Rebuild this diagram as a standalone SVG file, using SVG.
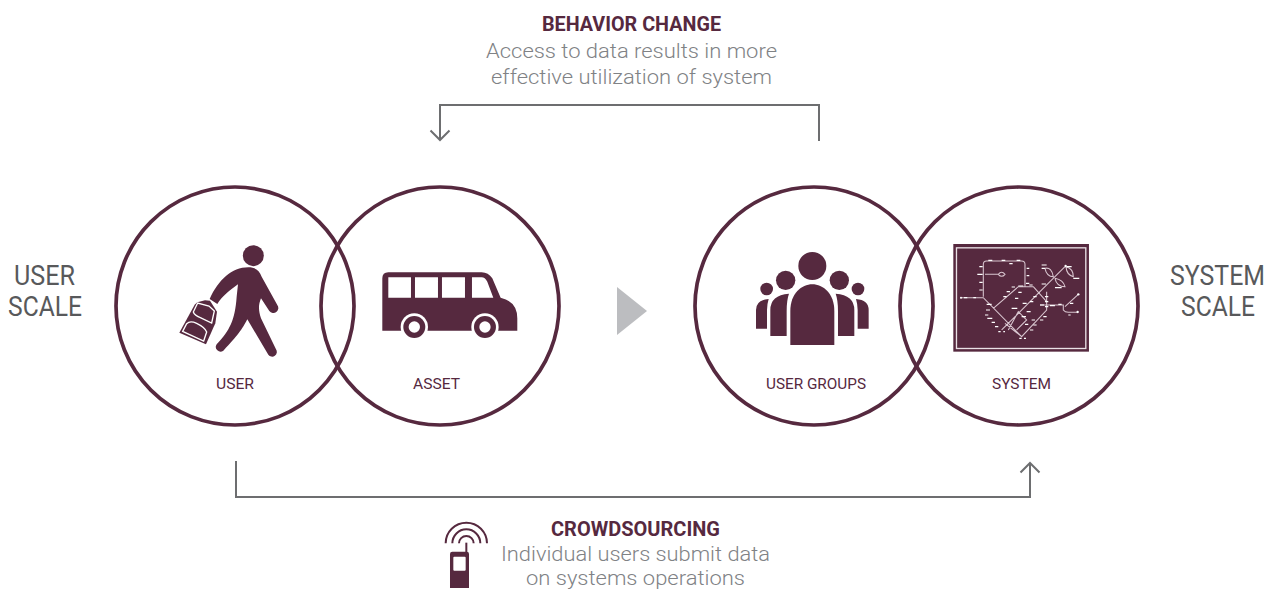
<svg xmlns="http://www.w3.org/2000/svg" width="1274" height="590" viewBox="0 0 1274 590">
<style>
text{font-family:"Roboto","Liberation Sans",sans-serif;text-anchor:start}
.ring{fill:none;stroke:#56293f;stroke-width:3.700}
.f{fill:#56293f}
.w{fill:#fff}
.lbl{font-size:15px;fill:#56293f}
.scale{font-size:27px;fill:#58595b;font-weight:400}
.head{font-size:20px;font-weight:700;fill:#56293f}
.desc{font-size:21px;font-weight:300;fill:#808285}
.conn{fill:none;stroke:#6d6e70;stroke-width:2}
.route{fill:none;stroke:#d8c5cf;stroke-width:3.200}
.tick{fill:none;stroke:#fff;stroke-width:3.400}
</style>
<rect width="1274" height="590" fill="#fff"/>
<g id="connectors">
<path class="conn" d="M819 141V105H440V140M430.500 130.500L440 140L449.500 130.500"/>
<path class="conn" d="M236 461V497H1030V463M1020.500 472.500L1030 463L1039.500 472.500"/>
<polygon id="flow-arrow" points="617,287 647,311 617,335" fill="#bcbdc0"/>
</g>
<g id="node-user">
<circle class="ring" cx="235" cy="306" r="119"/>
<g transform="translate(160 230) scale(.3333)">
<circle class="f" cx="280" cy="77" r="31.500"/>
<path class="f" d="M149 207C175 150 215 112 265 112C285 112 298 120 305 140L352 225A14 14 0 0 1 328 243L303 205C295 225 295 240 303 265L348 358A14 14 0 0 1 325 374L262 268C245 300 235 315 190 362A14 14 0 0 1 170 343C210 300 225 270 230 200L234 163C210 180 185 200 172 222Z"/>
<path class="f" d="M58 308L104 224L112 217L135 211L150 212L171 245L166 280L138 343Z"/>
<path fill="none" stroke="#fff" stroke-width="4" d="M100 246L113 219L147 228L163 243L155 279L121 263Q103 256 100 246Z"/>
<path fill="none" stroke="#fff" stroke-width="4" d="M68 304L80 281Q90 271 110 280Q135 292 140 306L131 333Z"/>
</g>
<text class="lbl" x="216" y="388.500" textLength="38" lengthAdjust="spacingAndGlyphs">USER</text>
</g>
<g id="node-asset">
<circle class="ring" cx="440" cy="306" r="119"/>
<g transform="translate(160 230) scale(.3333)">
<path class="f" d="M667 302V145Q667 127 685 127H965Q985 127 997 145L1022 203Q1072 215 1072 265V302Z"/>
<path class="w" d="M685 142H753V203H685ZM765 142H834V203H765ZM846 142H915V203H846ZM936 142H965Q975 142 982 155L1000 203H936Z"/>
<circle class="w" cx="763" cy="291" r="41"/><circle class="f" cx="763" cy="291" r="33"/><circle class="w" cx="763" cy="291" r="17"/>
<circle class="w" cx="975" cy="291" r="41"/><circle class="f" cx="975" cy="291" r="33"/><circle class="w" cx="975" cy="291" r="17"/>
</g>
<text class="lbl" x="413" y="388.500" textLength="47" lengthAdjust="spacingAndGlyphs">ASSET</text>
</g>
<g id="node-user-groups">
<circle class="ring" cx="814" cy="306" r="119"/>
<g transform="translate(740 235) scale(.3333)">
<circle class="f" cx="217" cy="93" r="42"/>
<path class="f" d="M151 330V228C151 175 185 148 217 148C249 148 283 175 283 228V330Z"/>
<circle class="f" cx="137" cy="136" r="29"/><circle class="f" cx="298" cy="136" r="29"/>
<path class="f" d="M91 303V225Q91 180 147 176Q140 195 140 228V303Z"/>
<path class="f" d="M343 303V225Q343 180 287 176Q294 195 294 228V303Z"/>
<circle class="f" cx="80" cy="162" r="19"/><circle class="f" cx="354" cy="162" r="19"/>
<path class="f" d="M48 281V225Q48 195 86 192Q81 208 81 225V281Z"/>
<path class="f" d="M386 281V225Q386 195 348 192Q353 208 353 225V281Z"/>
</g>
<text class="lbl" x="766" y="388.500" textLength="100" lengthAdjust="spacingAndGlyphs">USER GROUPS</text>
</g>
<g id="node-system">
<circle class="ring" cx="1019" cy="306" r="119"/>
<g transform="translate(740 235) scale(.3333)">
<rect class="f" x="640" y="27" width="407" height="323"/>
<rect x="649.500" y="38.500" width="388" height="302" fill="none" stroke="#e9e0e5" stroke-width="4"/>
<path class="route" d="M730 185V88Q730 78 740 78H845Q855 78 855 88V155M735 118H775M775 118Q785 105 795 118Q785 130 775 118M662 188H730L845 305L920 225V170M760 220L835 155H880M785 285L900 170L975 95M805 285L835 230L860 255L830 285M845 305L795 265M880 155L920 200M915 100Q935 95 940 125Q920 125 915 100M978 95Q1000 100 1000 125Q980 120 978 95M945 130Q970 135 975 155Q950 155 945 130M900 210H970V225Q975 232 985 232H1015M975 215L1015 178"/>
<path class="tick" d="M745 76H757M785 76H796M830 76H841M808 86H818M718 95H728M712 118H728M718 142H728M718 165H728M860 100H868M860 122H868M858 145H868M835 153H850M815 156H825M868 150H878M905 147H918M800 170H810M790 185H800M835 172H845M825 190H835M880 185H890M870 200H880M915 185H925M915 200H925M900 210H912M930 212H945M955 208H965M740 208H755M738 225H750M735 240H745M742 250H757M755 262H765M765 275H775M815 220H832M848 205H860M860 230H872M845 245H858M875 255H885M855 268H865M880 270H890M870 285H880M905 90H920M905 100H915M980 95H995M1000 130H1018M945 158H965M672 188H682M700 188H708M985 240H992M990 205H1000M775 290H782M790 290H795M838 310H845M852 310H858M915 215H925M910 245H920M900 255H910"/>
<circle class="w" cx="663" cy="188" r="3"/><circle class="w" cx="1015" cy="178" r="3.500"/><circle class="w" cx="1013" cy="231" r="3.500"/><circle class="w" cx="977" cy="93" r="3.500"/>
</g>
<text class="lbl" x="992" y="388.500" textLength="59" lengthAdjust="spacingAndGlyphs">SYSTEM</text>
</g>
<g id="label-user-scale">
<text class="scale" x="14" y="285" textLength="61" lengthAdjust="spacingAndGlyphs">USER</text>
<text class="scale" x="8" y="316" textLength="74" lengthAdjust="spacingAndGlyphs">SCALE</text>
</g>
<g id="label-system-scale">
<text class="scale" x="1170" y="285" textLength="95" lengthAdjust="spacingAndGlyphs">SYSTEM</text>
<text class="scale" x="1181" y="316" textLength="74" lengthAdjust="spacingAndGlyphs">SCALE</text>
</g>
<g id="label-behavior">
<text class="head" x="542" y="31" textLength="179" lengthAdjust="spacingAndGlyphs">BEHAVIOR CHANGE</text>
<text class="desc" x="486" y="58" textLength="291" lengthAdjust="spacingAndGlyphs">Access to data results in more</text>
<text class="desc" x="491" y="84" textLength="281" lengthAdjust="spacingAndGlyphs">effective utilization of system</text>
</g>
<g id="label-crowdsourcing">
<g transform="translate(430 510) scale(.3333)">
<path fill="none" stroke="#56293f" stroke-width="6" d="M87 100A22 22 0 0 1 131 100M67 100A42 42 0 0 1 151 100M47 100A62 62 0 0 1 171 100"/>
<path fill="none" stroke="#56293f" stroke-width="6" d="M109 98V128"/>
<path class="f" d="M67 125H110Q117 125 117 132V234H60V132Q60 125 67 125Z"/>
<rect class="w" x="70" y="140" width="37" height="42" rx="3"/>
</g>
<text class="head" x="551" y="536" textLength="169" lengthAdjust="spacingAndGlyphs">CROWDSOURCING</text>
<text class="desc" x="501" y="561" textLength="269" lengthAdjust="spacingAndGlyphs">Individual users submit data</text>
<text class="desc" x="526" y="585" textLength="219" lengthAdjust="spacingAndGlyphs">on systems operations</text>
</g>
</svg>
